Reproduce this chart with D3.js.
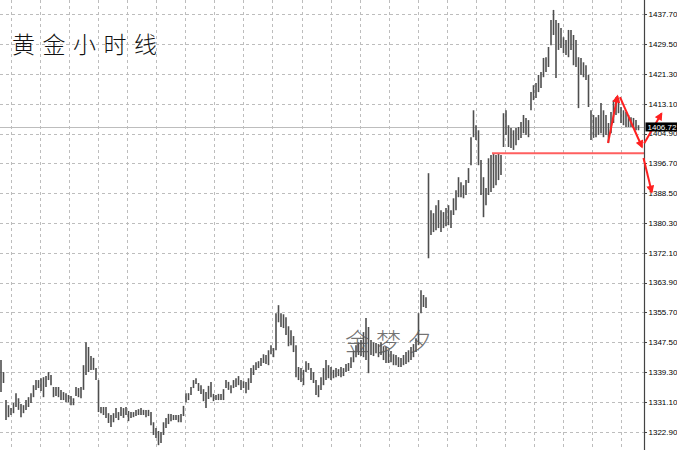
<!DOCTYPE html>
<html><head><meta charset="utf-8">
<script src="https://cdn.jsdelivr.net/npm/d3@7"></script>
<style>html,body{margin:0;padding:0;background:#fff;overflow:hidden}</style>
</head><body><svg id="c" width="677" height="450"></svg>
<script>
// Hourly gold bars (high / low)
const highs = [
1342.6,1339.3,1331.6,1330.2,1329.4,1330.8,1333.5,1332.1,1330.5,1330.2,
1331.6,1332.4,1333.5,1335.7,1337.1,1337.1,1337.6,1337.9,1338.2,1339.3,
1338.5,1335.2,1335.2,1335.2,1334.4,1333.8,1333.5,1333.0,1332.7,1332.1,
1335.2,1334.9,1335.2,1341.2,1347.5,1346.2,1343.7,1343.2,1340.4,1337.1,
1329.7,1329.7,1329.7,1328.0,1327.5,1328.0,1329.4,1328.3,1329.7,1329.4,
1329.7,1328.6,1328.3,1328.3,1328.9,1329.1,1329.4,1328.9,1328.9,1328.9,
1328.3,1325.5,1323.9,1323.1,1322.8,1325.5,1326.7,1327.8,1327.8,1327.5,
1327.5,1327.5,1327.8,1330.0,1333.5,1333.5,1335.2,1337.1,1337.6,1336.3,
1335.7,1334.6,1333.8,1335.5,1336.6,1333.3,1333.0,1333.3,1333.3,1334.6,
1337.1,1336.6,1335.7,1337.1,1337.6,1338.2,1337.1,1336.8,1336.6,1337.6,
1340.4,1341.2,1342.0,1342.3,1343.2,1344.2,1344.0,1345.3,1346.7,1345.9,
1355.5,1357.7,1355.5,1355.2,1354.4,1351.9,1350.8,1349.2,1346.7,1340.7,
1340.4,1339.9,1342.3,1341.8,1340.4,1339.3,1337.1,1335.7,1337.9,1340.4,
1342.6,1341.2,1340.7,1339.9,1340.4,1340.1,1340.7,1340.4,1341.5,1341.8,
1343.4,1345.3,1346.7,1347.5,1348.1,1350.3,1354.2,1351.7,1348.1,1347.5,
1347.3,1347.0,1347.5,1346.4,1346.2,1345.3,1345.1,1344.2,1344.0,1343.4,
1343.2,1344.0,1344.8,1345.3,1346.2,1347.0,1348.6,1355.5,1361.8,1360.5,
1359.9,1394.0,1383.8,1383.0,1385.2,1386.6,1383.8,1383.3,1384.4,1385.2,
1383.8,1387.1,1389.3,1392.9,1391.5,1390.7,1392.1,1395.4,1403.9,1411.3,
1407.2,1405.8,1397.6,1392.9,1389.9,1398.1,1399.0,1399.5,1399.0,1399.5,
1399.0,1410.5,1411.3,1407.2,1406.4,1405.8,1406.4,1406.7,1408.1,1410.0,
1409.2,1408.6,1416.3,1418.2,1418.8,1421.0,1421.8,1425.7,1425.9,1428.7,
1436.1,1438.9,1436.1,1435.3,1433.9,1431.4,1430.6,1433.4,1433.4,1432.0,
1430.6,1425.9,1425.7,1424.5,1423.7,1421.0,1411.3,1410.0,1409.4,1410.0,
1413.3,1411.3,1410.0,1407.8,1410.8,1414.1,1414.9,1414.7,1412.2,1411.3,
1410.8,1410.0,1409.4,1409.2,1408.6,1407.2
];
const lows = [
1333.8,1336.3,1326.1,1326.9,1327.5,1328.0,1329.7,1328.9,1326.9,1328.0,
1328.9,1329.7,1330.8,1332.4,1334.4,1334.9,1334.1,1332.4,1335.2,1337.1,
1335.7,1332.4,1332.7,1332.4,1331.6,1331.6,1331.0,1331.0,1330.2,1330.2,
1332.7,1332.4,1332.1,1334.4,1338.5,1339.3,1339.9,1339.9,1337.1,1328.3,
1328.0,1327.5,1326.7,1325.3,1324.2,1325.5,1326.7,1326.1,1327.2,1326.7,
1327.5,1325.8,1326.7,1326.9,1327.2,1327.5,1327.5,1327.5,1326.9,1327.2,
1324.7,1322.0,1321.2,1319.2,1319.8,1322.0,1323.9,1325.0,1325.8,1326.1,
1326.1,1325.5,1325.5,1327.2,1331.0,1331.6,1333.0,1334.9,1336.0,1334.1,
1333.3,1331.3,1329.4,1331.9,1332.4,1331.3,1331.6,1331.6,1331.6,1331.6,
1334.9,1334.4,1333.5,1334.9,1335.2,1335.7,1334.4,1334.9,1333.5,1334.4,
1336.3,1338.5,1339.9,1340.4,1341.0,1341.8,1341.5,1341.2,1344.2,1343.4,
1345.3,1353.0,1351.7,1351.4,1349.5,1346.4,1346.7,1344.8,1337.9,1337.1,
1336.6,1335.7,1339.3,1339.9,1337.1,1336.3,1333.0,1332.4,1334.4,1335.7,
1337.1,1337.6,1337.1,1337.6,1337.9,1338.2,1337.9,1338.2,1339.3,1339.6,
1340.4,1342.0,1343.4,1344.0,1343.7,1343.4,1342.6,1339.0,1344.0,1343.7,
1344.5,1343.4,1344.0,1342.6,1341.8,1341.8,1342.0,1341.2,1341.2,1340.7,
1340.7,1341.2,1341.5,1342.0,1342.6,1343.4,1344.8,1346.7,1355.5,1357.2,
1356.9,1370.6,1377.0,1377.8,1378.3,1378.9,1377.8,1378.9,1379.4,1379.7,
1378.9,1382.5,1383.8,1387.4,1387.4,1387.1,1388.0,1391.3,1396.2,1403.9,
1403.1,1396.2,1388.0,1381.9,1385.2,1388.0,1388.8,1389.9,1390.7,1392.1,
1393.5,1401.2,1404.5,1401.2,1400.9,1400.4,1401.7,1403.1,1403.7,1405.0,
1404.5,1403.9,1411.3,1414.1,1414.7,1416.3,1417.4,1420.4,1421.8,1423.2,
1429.2,1432.0,1420.2,1427.9,1428.4,1427.0,1426.5,1425.9,1427.9,1423.7,
1423.2,1411.9,1421.0,1420.4,1419.6,1412.2,1403.1,1403.7,1403.9,1404.5,
1405.0,1403.9,1404.5,1402.3,1405.0,1407.8,1410.0,1410.5,1407.8,1407.2,
1406.7,1406.7,1406.7,1406.4,1405.8,1405.8
];
const yTicks = [1437.70,1429.50,1421.30,1413.10,1404.90,1396.70,1388.50,1380.30,1372.10,1363.90,1355.70,1347.50,1339.30,1331.10,1322.90];
const lastPrice = 1406.72;
const titleText = "黄金小时线";
const watermarkText = "金梦夕";
// annotations in (bar index, price)
const supportLevel = 1399.5, supportFromIndex = 196.4;
const arrowFrom = [[242.8,1402.3],[247.6,1414.9],[257.3,1402.2],[257.0,1398.2]];
const arrowTo   = [[246.6,1415.2],[256.4,1401.2],[264.2,1410.4],[260.3,1388.8]];

const W = 677, H = 450, axisX = 644;
const svg = d3.select("#c");
const x = d3.scaleLinear().domain([0, highs.length - 1]).range([1, 638.5]);
const y = d3.scaleLinear().domain([1322.9, 1437.7]).range([431.7, 14.3]);

svg.append("rect").attr("width", W).attr("height", H).attr("fill", "#fff");

// grid
const grid = svg.append("g").attr("stroke", "#bdbdbd").attr("stroke-dasharray", "3,3").attr("stroke-width", 1).attr("shape-rendering", "crispEdges");
grid.selectAll("line.h").data(yTicks).join("line").attr("class", "h")
  .attr("x1", 0).attr("x2", axisX).attr("y1", d => Math.round(y(d)) + 0.5).attr("y2", d => Math.round(y(d)) + 0.5);
grid.selectAll("line.v").data(d3.range(0, 22)).join("line").attr("class", "v")
  .attr("y1", 0).attr("y2", H).attr("x1", k => Math.round(11 + 29.05 * k) + 0.5).attr("x2", k => Math.round(11 + 29.05 * k) + 0.5);

// bid line
svg.append("line").attr("x1", 0).attr("x2", axisX).attr("y1", Math.round(y(lastPrice)) + 0.5).attr("y2", Math.round(y(lastPrice)) + 0.5)
  .attr("stroke", "#bdbdbd").attr("stroke-width", 1).attr("shape-rendering", "crispEdges");

// bars
svg.append("g").selectAll("line").data(highs.map((h, i) => ({h, l: lows[i], i}))).join("line")
  .attr("x1", d => x(d.i)).attr("x2", d => x(d.i))
  .attr("y1", d => y(d.h)).attr("y2", d => y(d.l))
  .attr("stroke", "#4e4e4e").attr("stroke-width", 1.6);

// watermark
svg.append("text").attr("x", 345).attr("y", 351).text(watermarkText)
  .attr("font-family", "Noto Sans CJK SC").attr("font-weight", 200).attr("font-size", 25).attr("letter-spacing", 6)
  .attr("fill", "#5a5a5a").attr("fill-opacity", 0.85);

// title
svg.append("text").attr("x", 12).attr("y", 53).text(titleText)
  .attr("font-family", "Noto Sans CJK SC").attr("font-weight", 300).attr("font-size", 23).attr("letter-spacing", 7.5).attr("fill", "#111");

// support line
svg.append("line").attr("x1", x(supportFromIndex)).attr("x2", axisX).attr("y1", y(supportLevel)).attr("y2", y(supportLevel))
  .attr("stroke", "#ff5f5f").attr("stroke-width", 2);

// arrows
const defs = svg.append("defs");
defs.append("marker").attr("id", "ah").attr("viewBox", "0 0 10 10").attr("refX", 8).attr("refY", 5)
  .attr("markerWidth", 9).attr("markerHeight", 8).attr("markerUnits", "userSpaceOnUse").attr("orient", "auto")
  .append("path").attr("d", "M0,0 L10,5 L0,10 z").attr("fill", "#ff2020");

// axis
svg.append("line").attr("x1", axisX + 0.5).attr("x2", axisX + 0.5).attr("y1", 0).attr("y2", H).attr("stroke", "#444").attr("stroke-width", 1.2);
const ax = svg.append("g");
ax.selectAll("line").data(yTicks).join("line").attr("x1", axisX).attr("x2", axisX + 3)
  .attr("y1", d => Math.round(y(d)) + 0.5).attr("y2", d => Math.round(y(d)) + 0.5).attr("stroke", "#444");
ax.selectAll("text").data(yTicks).join("text").attr("x", 648.5).attr("y", d => y(d)).attr("dy", "0.35em")
  .text(d => d3.format(".2f")(d)).attr("font-family", "Liberation Sans, Arial").attr("font-size", 8).attr("fill", "#000");

svg.append("g").selectAll("line").data(arrowFrom.map((f, i) => [f, arrowTo[i]])).join("line")
  .attr("x1", d => x(d[0][0])).attr("y1", d => y(d[0][1])).attr("x2", d => x(d[1][0])).attr("y2", d => y(d[1][1]))
  .attr("stroke", "#ff2020").attr("stroke-width", 2).attr("marker-end", "url(#ah)");

// current price label
const py = y(lastPrice);
svg.append("rect").attr("x", 645.5).attr("y", py - 4.5).attr("width", 32).attr("height", 9).attr("fill", "#000");
svg.append("text").attr("x", 647.5).attr("y", py).attr("dy", "0.35em").text(d3.format(".2f")(lastPrice))
  .attr("font-family", "Liberation Sans, Arial").attr("font-size", 8).attr("fill", "#fff");
</script></body></html>
